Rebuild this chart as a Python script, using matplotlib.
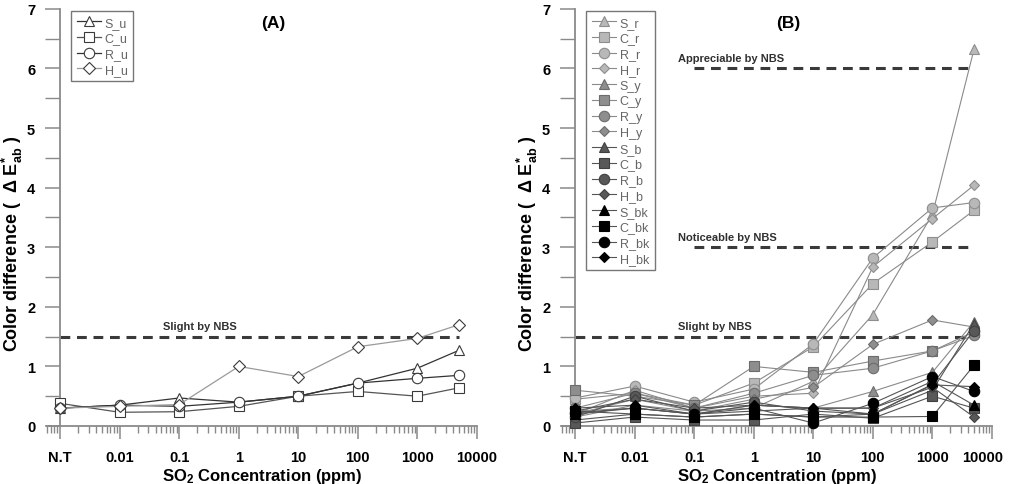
import matplotlib
matplotlib.use('Agg')
import matplotlib.pyplot as plt
import matplotlib.transforms as mtrans
from matplotlib.ticker import FixedLocator, LogLocator, NullFormatter, MultipleLocator

plt.rcParams['font.family'] = ['Liberation Sans', 'DejaVu Sans']
plt.rcParams['mathtext.fontset'] = 'custom'
plt.rcParams['mathtext.rm'] = 'Liberation Sans:bold'
plt.rcParams['mathtext.it'] = 'Liberation Sans:bold'
plt.rcParams['mathtext.bf'] = 'Liberation Sans:bold'

# concentrations (N.T plotted at 0.001)
conc = [0.001, 0.01, 0.1, 1, 10, 100, 1000, 5000]
tick_pos = [0.001, 0.01, 0.1, 1, 10, 100, 1000, 10000]
tick_lab = ['N.T', '0.01', '0.1', '1', '10', '100', '1000', '10000']

# panel A - uncoated
S_u = [0.30, 0.35, 0.47, 0.40, 0.50, 0.72, 0.97, 1.27]
C_u = [0.38, 0.23, 0.24, 0.33, 0.50, 0.58, 0.50, 0.64]
R_u = [0.30, 0.35, 0.33, 0.40, 0.50, 0.72, 0.80, 0.85]
H_u = [0.30, 0.33, 0.36, 1.00, 0.83, 1.33, 1.47, 1.70]

# panel B - coloured
S_r = [0.15, 0.35, 0.25, 0.30, 0.75, 1.87, 3.55, 6.32]
C_r = [0.45, 0.55, 0.35, 0.72, 1.33, 2.39, 3.09, 3.62]
R_r = [0.47, 0.67, 0.40, 0.62, 1.38, 2.82, 3.66, 3.75]
H_r = [0.20, 0.60, 0.30, 0.50, 0.55, 2.67, 3.48, 4.04]
S_y = [0.25, 0.30, 0.20, 0.35, 0.30, 0.58, 0.90, 1.75]
C_y = [0.60, 0.50, 0.35, 1.00, 0.90, 1.09, 1.26, 1.58]
R_y = [0.30, 0.55, 0.30, 0.55, 0.85, 0.97, 1.26, 1.52]
H_y = [0.20, 0.45, 0.25, 0.45, 0.65, 1.37, 1.78, 1.66]
S_b = [0.10, 0.20, 0.15, 0.20, 0.15, 0.20, 0.60, 1.72]
C_b = [0.05, 0.15, 0.10, 0.10, 0.20, 0.13, 0.50, 0.30]
R_b = [0.15, 0.50, 0.25, 0.40, 0.25, 0.20, 0.70, 1.60]
H_b = [0.25, 0.45, 0.30, 0.35, 0.30, 0.30, 0.65, 0.15]
S_bk = [0.20, 0.30, 0.20, 0.25, 0.30, 0.30, 0.75, 0.35]
C_bk = [0.25, 0.20, 0.15, 0.20, 0.15, 0.15, 0.16, 1.02]
R_bk = [0.22, 0.30, 0.20, 0.30, 0.05, 0.38, 0.83, 0.58]
H_bk = [0.30, 0.35, 0.20, 0.35, 0.30, 0.20, 0.69, 0.66]

nbs_A_level = [1.5]
nbs_A_label = ['Slight by NBS']
nbs_A_start = [0.001]
nbs_B_level = [1.5, 3.0, 6.0]
nbs_B_label = ['Slight by NBS', 'Noticeable by NBS', 'Appreciable by NBS']
nbs_B_start = [0.001, 0.1, 0.1]
nbs_end = 5000
nbs_text_x = 0.053

spine_c = '#8a8a8a'


def setup_axes(ax, panel):
    ax.set_xscale('log')
    ax.set_xlim(0.0006, 10000)
    ax.set_ylim(0, 7)
    for s in ['top', 'right']:
        ax.spines[s].set_visible(False)
    ax.spines['left'].set_position(('data', 0.001))
    for s in ['left', 'bottom']:
        ax.spines[s].set_color(spine_c)
        ax.spines[s].set_linewidth(1.3)
    ax.xaxis.set_major_locator(FixedLocator(tick_pos))
    ax.set_xticklabels(tick_lab)
    ax.xaxis.set_minor_locator(LogLocator(base=10, subs=range(2, 10), numticks=20))
    ax.xaxis.set_minor_formatter(NullFormatter())
    ax.yaxis.set_major_locator(MultipleLocator(1))
    ax.yaxis.set_minor_locator(MultipleLocator(0.5))
    ax.tick_params(axis='x', which='major', direction='out', length=9, width=1.1,
                   color=spine_c, labelsize=10.5, pad=8)
    ax.tick_params(axis='x', which='minor', direction='out', length=5, width=1.0, color=spine_c)
    ax.tick_params(axis='y', which='major', direction='out', length=11, width=1.1,
                   color=spine_c, labelsize=10.5, pad=7)
    ax.tick_params(axis='y', which='minor', direction='out', length=11, width=1.0, color=spine_c)
    for lab in ax.get_xticklabels() + ax.get_yticklabels():
        lab.set_fontweight('bold')
    ax.set_xlabel(r'SO$_2$ Concentration (ppm)', fontsize=12, fontweight='bold', labelpad=2)
    ax.set_ylabel(r'Color difference (  $\Delta$ E$^{*}_{ab}$ )', fontsize=13,
                  fontweight='bold')
    ax.yaxis.set_label_coords(-0.05, 0.44)
    ax.text(0.527, 0.968, panel, transform=ax.transAxes, ha='center', va='center',
            fontsize=12.5, fontweight='bold')


def draw_nbs(ax, levels, labels, starts):
    for lv, lb, st in zip(levels, labels, starts):
        ax.plot([st, nbs_end], [lv, lv], color='#3a3a3a', lw=2.2, dashes=(3.2, 2.2), zorder=1)
        ax.text(nbs_text_x, lv + 0.09, lb, fontsize=8, fontweight='bold', color='#303030',
                ha='left', va='bottom')


def style_legend(ax):
    leg = ax.legend(loc='upper left', bbox_to_anchor=(0.057, 0.995), borderaxespad=0,
                    fontsize=9, labelspacing=0.3, handlelength=1.9, handletextpad=0.3,
                    borderpad=0.45, fancybox=False, framealpha=1, edgecolor='#777777')
    for t in leg.get_texts():
        t.set_color('#666666')


fig = plt.figure(figsize=(10.1, 4.85), dpi=100)
axA = fig.add_axes([0.0465, 0.1196, 0.4257, 0.860])
axB = fig.add_axes([0.5564, 0.1196, 0.4257, 0.860])

# ---- panel A
setup_axes(axA, '(A)')
draw_nbs(axA, nbs_A_level, nbs_A_label, nbs_A_start)
a_series = [('S_u', S_u, '^', '#333333'), ('C_u', C_u, 's', '#555555'),
            ('R_u', R_u, 'o', '#333333'), ('H_u', H_u, 'D', '#9a9a9a')]
for name, vals, mk, lc in a_series:
    axA.plot(conc, vals, color=lc, lw=0.9, marker=mk, ms=7.5 if mk != 'D' else 6,
             mfc='white', mec='#3a3a3a', mew=0.8, label=name, clip_on=False, zorder=3)
style_legend(axA)

# ---- panel B
setup_axes(axB, '(B)')
draw_nbs(axB, nbs_B_level, nbs_B_label, nbs_B_start)
shade = {'r': ('#b8b8b8', '#8e8e8e'), 'y': ('#8e8e8e', '#6c6c6c'),
         'b': ('#585858', '#404040'), 'bk': ('#000000', '#000000')}
shape = {'S': '^', 'C': 's', 'R': 'o', 'H': 'D'}
b_series = [('S_r', S_r), ('C_r', C_r), ('R_r', R_r), ('H_r', H_r),
            ('S_y', S_y), ('C_y', C_y), ('R_y', R_y), ('H_y', H_y),
            ('S_b', S_b), ('C_b', C_b), ('R_b', R_b), ('H_b', H_b),
            ('S_bk', S_bk), ('C_bk', C_bk), ('R_bk', R_bk), ('H_bk', H_bk)]
for name, vals in b_series:
    kind, col = name.split('_')
    fc, ec = shade[col]
    mk = shape[kind]
    lc = '#8a8a8a' if col in ('r', 'y') else '#555555'
    axB.plot(conc, vals, color=lc, lw=0.8, marker=mk, ms=7.5 if mk != 'D' else 5.5,
             mfc=fc, mec=ec, mew=0.8, label=name, clip_on=False, zorder=3)
style_legend(axB)

# keep the last tick label of panel B inside the figure
last = axB.get_xticklabels()[-1]
last.set_transform(last.get_transform() + mtrans.ScaledTranslation(-7 / 72, 0, fig.dpi_scale_trans))

fig.savefig('out.png', dpi=100)
